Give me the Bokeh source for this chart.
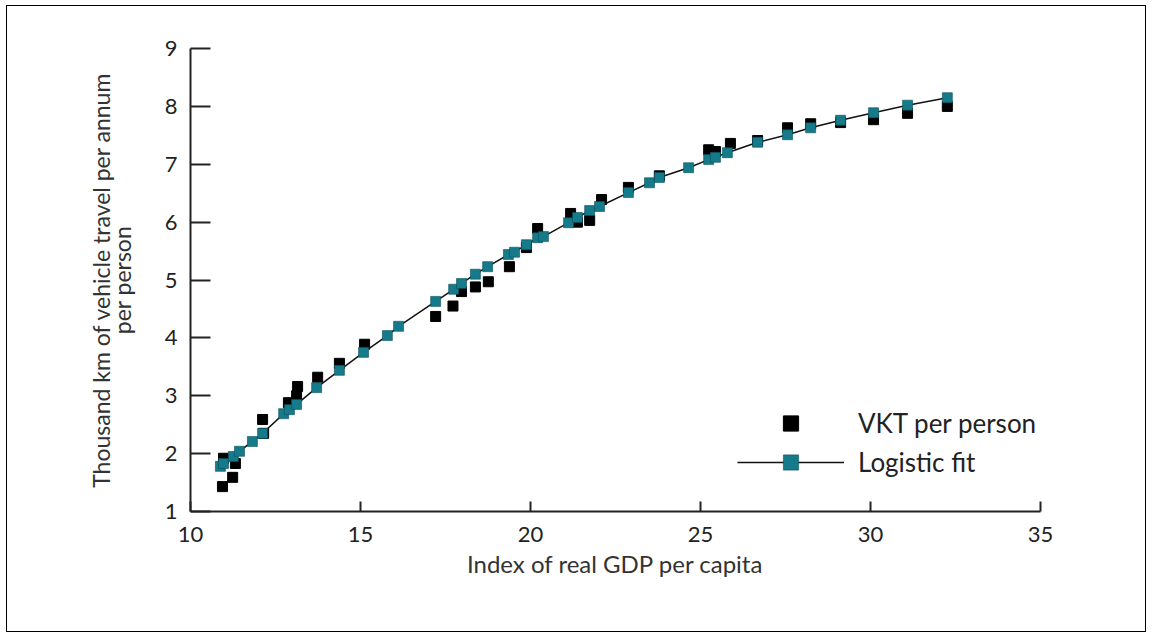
from bokeh.plotting import figure
from bokeh.models import FixedTicker, Legend, LegendItem, ColumnDataSource
from bokeh.embed import file_html
from bokeh.resources import INLINE

# Logistic fit (teal squares joined by a line)
fit_x = [10.88, 10.97, 11.26, 11.44, 11.82, 12.12, 12.74, 12.91, 13.12, 13.71,
         14.38, 15.09, 15.79, 16.12, 17.21, 17.74, 17.97, 18.38, 18.74, 19.35,
         19.53, 19.88, 20.21, 20.38, 21.12, 21.38, 21.74, 22.03, 22.88, 23.50,
         23.79, 24.65, 25.24, 25.44, 25.79, 26.68, 27.56, 28.24, 29.12, 30.09,
         31.09, 32.26]
fit_y = [1.78, 1.83, 1.95, 2.04, 2.21, 2.35, 2.69, 2.76, 2.85, 3.14,
         3.44, 3.75, 4.04, 4.20, 4.63, 4.84, 4.94, 5.10, 5.23, 5.44,
         5.48, 5.61, 5.73, 5.75, 5.99, 6.08, 6.20, 6.27, 6.51, 6.68,
         6.77, 6.94, 7.08, 7.12, 7.20, 7.38, 7.51, 7.63, 7.76, 7.89,
         8.02, 8.15]

# VKT per person (black squares)
vkt_x = [10.94, 10.97, 11.24, 11.32, 12.12, 12.15, 12.88, 13.12, 13.15, 13.74,
         14.38, 15.12, 17.21, 17.72, 17.97, 18.38, 18.76, 19.38, 19.88, 20.21,
         21.18, 21.38, 21.74, 22.09, 22.88, 23.79, 25.24, 25.44, 25.88, 26.68,
         27.56, 28.24, 29.12, 30.09, 31.09, 32.26]
vkt_y = [1.43, 1.92, 1.59, 1.83, 2.59, 2.35, 2.88, 3.00, 3.16, 3.32,
         3.56, 3.89, 4.37, 4.55, 4.80, 4.88, 4.97, 5.23, 5.56, 5.89,
         6.15, 6.00, 6.03, 6.39, 6.60, 6.80, 7.25, 7.22, 7.36, 7.41,
         7.63, 7.70, 7.72, 7.77, 7.88, 8.00]

x_ticks = [10, 15, 20, 25, 30, 35]
y_ticks = [1, 2, 3, 4, 5, 6, 7, 8, 9]

x_title = "Index of real GDP per capita"
y_title = "Thousand km of vehicle travel per annum\nper person"
legend_labels = ["VKT per person", "Logistic fit"]

FONT = "Lato"
TEAL = "#157a8a"

p = figure(width=1140, height=627, output_backend="svg", toolbar_location=None,
           x_range=(10, 35), y_range=(1, 9),
           min_border_left=183, min_border_right=107,
           min_border_top=42, min_border_bottom=122)
p.styles = {"border": "1px solid #000", "margin-left": "6px", "margin-top": "5px"}
p.outline_line_color = None
p.xgrid.visible = False
p.ygrid.visible = False
p.background_fill_color = "white"
p.border_fill_color = "white"

for ax in (p.xaxis[0], p.yaxis[0]):
    ax.axis_line_width = 2
    ax.axis_line_color = "#222222"
    ax.major_tick_line_width = 2
    ax.major_tick_line_color = "#222222"
    ax.minor_tick_line_color = None
    ax.major_tick_out = 0
    ax.major_label_text_font = FONT
    ax.major_label_text_font_size = "22px"
    ax.major_label_text_color = "#222222"
    ax.axis_label_text_font = FONT
    ax.axis_label_text_font_style = "normal"
    ax.axis_label_text_color = "#333333"

p.xaxis[0].ticker = FixedTicker(ticks=x_ticks)
p.yaxis[0].ticker = FixedTicker(ticks=y_ticks)
p.xaxis[0].major_tick_in = 10
p.yaxis[0].major_tick_in = 20
p.xaxis[0].major_label_standoff = 15
p.yaxis[0].major_label_standoff = 13
p.xaxis[0].axis_label = x_title
p.yaxis[0].axis_label = y_title
p.xaxis[0].axis_label_text_font_size = "24px"
p.yaxis[0].axis_label_text_font_size = "23px"
p.yaxis[0].axis_label_text_line_height = 0.75
p.xaxis[0].axis_label_standoff = 4
p.yaxis[0].axis_label_standoff = 26

vkt_src = ColumnDataSource(dict(x=vkt_x, y=vkt_y))
fit_src = ColumnDataSource(dict(x=fit_x, y=fit_y))

r_vkt = p.scatter("x", "y", source=vkt_src, marker="square", size=10,
                  fill_color="#000000", line_color="#000000")
r_line = p.line("x", "y", source=fit_src, line_color="#111111", line_width=1.5)
r_fit = p.scatter("x", "y", source=fit_src, marker="square", size=10,
                  fill_color=TEAL, line_color="#0d4f5a", line_width=0.6)

legend = Legend(items=[LegendItem(label=legend_labels[0], renderers=[r_vkt]),
                       LegendItem(label=legend_labels[1], renderers=[r_line, r_fit])],
                location=(547, 30), orientation="vertical",
                glyph_width=107, glyph_height=38, label_height=38,
                label_standoff=14, spacing=1, padding=0, margin=0,
                border_line_color=None, background_fill_alpha=0,
                label_text_font=FONT, label_text_font_size="26px",
                label_text_color="#222222")
p.add_layout(legend, "center")

open("out.html", "w").write(file_html(p, INLINE))
